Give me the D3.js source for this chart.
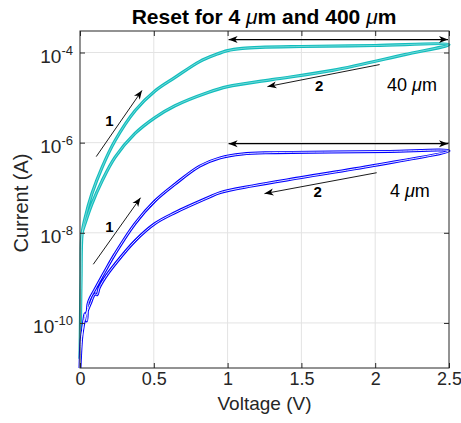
<!DOCTYPE html>
<meta charset="utf-8">
<script src="https://d3js.org/d3.v7.min.js"></script>
<style>
    body { margin: 0; background: #fff; }
    text { font-family: 'Liberation Sans', Arial, Helvetica, sans-serif; fill: #262626; }
    .grid line { stroke: #e3e3e3; stroke-width: 1; }
    .loop { fill: none; stroke-linejoin: round; }
</style>
<svg id="chart" width="461" height="423"></svg>
<script>
    // [voltage (V), current (A)]
    const cyanForward = [[0, 1.6e-11], [0.003, 1e-10], [0.007, 1e-9], [0.014, 9.5e-9], [0.034, 2.1e-8],
        [0.081, 7.4e-8], [0.149, 2.8e-7], [0.237, 1.1e-6], [0.373, 5.1e-6], [0.508, 1.4e-5],
        [0.644, 2.8e-5], [0.81, 6.3e-5], [0.92, 9.0e-5], [1.0, 1.1e-4], [1.1, 1.23e-4],
        [1.22, 1.3e-4], [1.5, 1.36e-4], [2.0, 1.43e-4], [2.5, 1.5e-4]];
    const cyanReverse = [[2.5, 1.5e-4], [2.2, 9.0e-5], [1.71, 4.0e-5], [1.3, 2.5e-5], [1.0, 1.75e-5],
        [0.867, 1.3e-5], [0.644, 6.6e-6], [0.508, 3.6e-6], [0.373, 1.6e-6], [0.237, 4.7e-7],
        [0.149, 1.4e-7], [0.081, 4.4e-8], [0.034, 1.6e-8], [0.014, 9.5e-9], [0.007, 1e-9],
        [0.003, 1e-10], [0, 1.6e-11]];
    const blueForward = [[0, 1e-11], [0.007, 4e-11], [0.014, 5.7e-11], [0.027, 1.2e-10], [0.034, 1.6e-10],
        [0.045, 1.1e-10], [0.054, 2.6e-10], [0.068, 3.5e-10], [0.095, 5.1e-10], [0.169, 1.4e-9],
        [0.237, 3.4e-9], [0.373, 1.6e-8], [0.508, 5.1e-8], [0.644, 1.2e-7], [0.81, 3.0e-7],
        [0.95, 4.6e-7], [1.1, 5.6e-7], [1.3, 6.0e-7], [1.7, 6.2e-7], [2.1, 6.4e-7], [2.5, 6.6e-7]];
    const blueReverse = [[2.5, 6.6e-7], [1.99, 3.1e-7], [1.51, 1.7e-7], [1.17, 1.1e-7], [0.95, 7.8e-8],
        [0.867, 6.0e-8], [0.644, 2.8e-8], [0.508, 1.6e-8], [0.373, 6.6e-9], [0.237, 2.0e-9],
        [0.169, 1.0e-9], [0.13, 6e-10], [0.115, 4.2e-10], [0.102, 4.4e-10], [0.068, 2.6e-10],
        [0.034, 1.3e-10], [0.014, 5.7e-11], [0, 1e-11]];

    const xTicks = [0, 0.5, 1, 1.5, 2, 2.5];
    const xTickLabels = ["0", "0.5", "1", "1.5", "2", "2.5"];
    const yTicks = [1e-10, 1e-8, 1e-6, 1e-4];
    const yTickExps = ["-10", "-8", "-6", "-4"];

    // annotations: [V, I] start/end
    const sweepArrows = [
        { from: [0.11, 4.9e-7], to: [0.42, 1.44e-5], label: "1", at: [0.2, 3.1e-6] },
        { from: [0.09, 2.0e-9], to: [0.41, 6.0e-8], label: "1", at: [0.2, 1.4e-8] },
        { from: [2.03, 5.4e-5], to: [1.27, 1.75e-5], label: "2", at: [1.62, 1.85e-5] },
        { from: [2.01, 2.15e-7], to: [1.25, 7.4e-8], label: "2", at: [1.61, 8.2e-8] }
    ];
    const spanArrows = [[1.0, 2.5, 1.94e-4], [1.0, 2.5, 9.5e-7]];
    const sizeLabels = [{ num: "40 ", at: [2.08, 1.9e-5] }, { num: "4 ", at: [2.1, 8.5e-8] }];

    const margin = { left: 80, top: 31, right: 12, bottom: 55 };
    const width = 461 - margin.left - margin.right;
    const height = 423 - margin.top - margin.bottom;

    const svg = d3.select("#chart");
    const defs = svg.append("defs");
    defs.append("marker").attr("id", "head").attr("viewBox", "-10 -5 12 10")
        .attr("refX", 0).attr("refY", 0).attr("markerWidth", 12).attr("markerHeight", 10)
        .attr("markerUnits", "userSpaceOnUse").attr("orient", "auto-start-reverse")
        .append("path").attr("d", "M0,0 L-9,-3.5 L-6.5,0 L-9,3.5 Z").attr("fill", "#000");

    const g = svg.append("g").attr("transform", `translate(${margin.left},${margin.top})`);
    const x = d3.scaleLinear().domain([0, 2.5]).range([0, width]);
    const y = d3.scaleLog().domain([1e-11, 3e-4]).range([height, 0]);

    // grid
    const grid = g.append("g").attr("class", "grid");
    grid.selectAll(".gx").data(xTicks.slice(1, -1)).join("line")
        .attr("x1", d => x(d)).attr("x2", d => x(d)).attr("y1", 0).attr("y2", height);
    grid.selectAll(".gy").data(yTicks).join("line")
        .attr("x1", 0).attr("x2", width).attr("y1", d => y(d)).attr("y2", d => y(d));

    // loops: each drawn as a double trace
    const line = d3.line().x(d => x(d[0])).y(d => y(d[1])).curve(d3.curveCatmullRom.alpha(0.5));
    const loops = [
        { data: cyanForward.concat(cyanReverse.slice(1)), color: "#12bdbd", w: 3.2, inner: 0.8, op: 0.5 },
        { data: blueForward.concat(blueReverse.slice(1)), color: "#0000ff", w: 3.0, inner: 1.0, op: 0.9 }
    ];
    loops.forEach(l => {
        g.append("path").attr("class", "loop").attr("d", line(l.data))
            .attr("stroke", l.color).attr("stroke-width", l.w);
        g.append("path").attr("class", "loop").attr("d", line(l.data))
            .attr("stroke", "#fff").attr("stroke-width", l.inner).attr("stroke-opacity", l.op);
    });

    // axes box and ticks
    const axisColor = "#262626";
    g.append("rect").attr("width", width).attr("height", height)
        .attr("fill", "none").attr("stroke", axisColor).attr("stroke-width", 1);
    const xAxis = d3.axisBottom(x).tickValues(xTicks).tickSize(-5).tickFormat((d, i) => xTickLabels[i]);
    const gx = g.append("g").attr("transform", `translate(0,${height})`).call(xAxis);
    gx.select(".domain").remove();
    gx.selectAll("line").attr("stroke", axisColor);
    gx.selectAll("text").attr("y", 17).attr("dy", 0).attr("font-size", 18)
        .attr("font-family", "'Liberation Sans', Arial, sans-serif").attr("fill", axisColor);
    const gxTop = g.append("g").call(d3.axisTop(x).tickValues(xTicks).tickSize(-5).tickFormat(""));
    gxTop.select(".domain").remove();
    gxTop.selectAll("line").attr("stroke", axisColor);

    const yAxis = d3.axisLeft(y).tickValues(yTicks).tickSize(-5).tickFormat("");
    const gy = g.append("g").call(yAxis);
    gy.select(".domain").remove();
    gy.selectAll("line").attr("stroke", axisColor);
    const gyR = g.append("g").attr("transform", `translate(${width},0)`)
        .call(d3.axisRight(y).tickValues(yTicks).tickSize(-5).tickFormat(""));
    gyR.select(".domain").remove();
    gyR.selectAll("line").attr("stroke", axisColor);

    const yl = g.append("g").selectAll("text").data(yTicks).join("text")
        .attr("x", -7).attr("y", d => y(d) + 10).attr("text-anchor", "end");
    yl.append("tspan").attr("font-size", 19).text("10");
    yl.append("tspan").attr("font-size", 13).attr("dy", -8).text((d, i) => yTickExps[i]);

    // axis labels and title
    svg.append("text").attr("x", margin.left + width / 2).attr("y", 410)
        .attr("text-anchor", "middle").attr("font-size", 19).text("Voltage (V)");
    svg.append("text").attr("transform", "translate(28,203) rotate(-90)")
        .attr("text-anchor", "middle").attr("font-size", 20).text("Current (A)");
    const title = svg.append("text").attr("x", 264).attr("y", 23.5).attr("text-anchor", "middle")
        .attr("font-size", 21).attr("font-weight", "bold").style("fill", "#000");
    title.append("tspan").text("Reset for 4 ");
    title.append("tspan").attr("font-style", "italic").attr("font-weight", "normal").text("μ");
    title.append("tspan").text("m and 400 ");
    title.append("tspan").attr("font-style", "italic").attr("font-weight", "normal").text("μ");
    title.append("tspan").text("m");

    // annotations
    const ann = g.append("g");
    sweepArrows.forEach(a => {
        ann.append("line").attr("x1", x(a.from[0])).attr("y1", y(a.from[1]))
            .attr("x2", x(a.to[0])).attr("y2", y(a.to[1]))
            .attr("stroke", "#000").attr("stroke-width", 0.9).attr("marker-end", "url(#head)");
        ann.append("text").attr("x", x(a.at[0])).attr("y", y(a.at[1]))
            .attr("dy", "0.36em").attr("text-anchor", "middle").attr("font-size", 15)
            .attr("font-weight", "bold").style("fill", "#000").text(a.label);
    });
    spanArrows.forEach(s => {
        ann.append("line").attr("x1", x(s[0]) + 1).attr("x2", x(s[1]) - 1)
            .attr("y1", y(s[2])).attr("y2", y(s[2]))
            .attr("stroke", "#000").attr("stroke-width", 1.2)
            .attr("marker-start", "url(#head)").attr("marker-end", "url(#head)");
    });
    sizeLabels.forEach(s => {
        const t = ann.append("text").attr("x", x(s.at[0])).attr("y", y(s.at[1]))
            .attr("dy", "0.36em").attr("font-size", 18).style("fill", "#000");
        t.append("tspan").text(s.num);
        t.append("tspan").attr("font-style", "italic").text("μ");
        t.append("tspan").text("m");
    });
</script>
